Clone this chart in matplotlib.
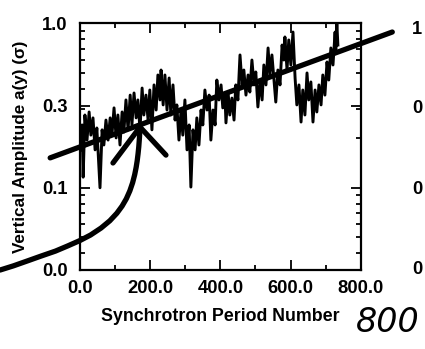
import numpy as np
import matplotlib
matplotlib.use("Agg")
import matplotlib.pyplot as plt
from matplotlib.font_manager import FontProperties
from matplotlib.ticker import FixedLocator, LogLocator, FixedFormatter, NullFormatter

# ---- data ----
noisy_x = [0, 6, 9, 14, 20, 26, 31, 37, 43, 48,
           57, 63, 68, 74, 80, 86, 91, 97, 103, 108,
           114, 120, 125, 131, 137, 143, 148, 154, 160, 165,
           171, 177, 182, 188, 194, 199, 205, 211, 217, 222,
           228, 231, 237, 242, 248, 254, 259, 265, 271, 276,
           282, 288, 293, 299, 305, 311, 316, 322, 328, 333,
           339, 345, 350, 356, 362, 368, 373, 379, 385, 390,
           396, 402, 407, 413, 416, 422, 427, 433, 439, 444,
           450, 456, 462, 467, 473, 479, 484, 490, 496, 501,
           507, 513, 519, 524, 530, 536, 541, 547, 553, 558,
           564, 570, 576, 581, 584, 590, 595, 601, 607, 613,
           618, 624, 630, 635, 641, 647, 652, 658, 664, 670,
           675, 681, 687, 692, 698, 704, 709, 715, 721, 727,
           729, 732, 735]
noisy_y = [0.170, 0.241, 0.116, 0.277, 0.195, 0.289, 0.209, 0.266, 0.170, 0.231,
           0.100, 0.225, 0.182, 0.258, 0.195, 0.266, 0.209, 0.306, 0.201, 0.277,
           0.182, 0.289, 0.218, 0.342, 0.225, 0.366, 0.241, 0.377, 0.266, 0.342,
           0.225, 0.404, 0.277, 0.366, 0.258, 0.393, 0.225, 0.422, 0.297, 0.485,
           0.342, 0.520, 0.319, 0.485, 0.297, 0.465, 0.277, 0.422, 0.258, 0.319,
           0.195, 0.297, 0.209, 0.342, 0.170, 0.241, 0.101, 0.225, 0.170, 0.266,
           0.182, 0.297, 0.241, 0.393, 0.297, 0.366, 0.195, 0.297, 0.241, 0.452,
           0.342, 0.422, 0.306, 0.366, 0.248, 0.382, 0.277, 0.351, 0.258, 0.422,
           0.342, 0.642, 0.422, 0.520, 0.366, 0.485, 0.382, 0.598, 0.422, 0.506,
           0.310, 0.452, 0.342, 0.558, 0.422, 0.708, 0.485, 0.642, 0.452, 0.332,
           0.520, 0.422, 0.738, 0.598, 0.826, 0.520, 0.792, 0.558, 0.885, 0.465,
           0.319, 0.422, 0.251, 0.393, 0.277, 0.499, 0.342, 0.440, 0.251, 0.393,
           0.289, 0.422, 0.319, 0.485, 0.366, 0.582, 0.452, 0.708, 0.558, 0.885,
           0.688, 1.0, 0.738]

fit_x = [-85, 890]
fit_y = [0.152, 0.885]

curve_x = [-228, -190, -150, -110, -70, -35, 0, 30, 60, 85, 105, 120,
           132, 142, 150, 156, 160, 163, 165.5, 167.5, 169.5, 171]
curve_y = [0.0316, 0.0335, 0.0359, 0.0385, 0.0412, 0.0443, 0.0478, 0.0516,
           0.0569, 0.0630, 0.0700, 0.0774, 0.0857, 0.0957, 0.1074, 0.1205,
           0.1330, 0.1459, 0.1611, 0.1774, 0.2023, 0.2312]

peak_x = [94, 171, 245]
peak_y = [0.1415, 0.234, 0.158]

xticks = [0, 200, 400, 600, 800]
xtick_labels = ["0.0", "200.0", "400.0", "600.0", "800.0"]
yticks = [10 ** -1.5, 0.1, 10 ** -0.5, 1.0]
ytick_labels = ["0.0", "0.1", "0.3", "1.0"]

# ---- figure ----
W, H = 425, 349
fig = plt.figure(figsize=(W / 100, H / 100), dpi=100)
ax = fig.add_axes([80 / W, 1 - 270 / H, 280.7 / W, 246.7 / H])

tick_font = {"family": "Liberation Sans", "weight": "bold", "size": 13.2}

ax.plot(noisy_x, noisy_y, color="black", lw=2.1, zorder=3)
ax.plot(fit_x, fit_y, color="black", lw=3.8, solid_capstyle="round",
        clip_on=False, zorder=4)
ax.plot(curve_x, curve_y, color="black", lw=3.8, solid_capstyle="round",
        solid_joinstyle="round", clip_on=False, zorder=4)
ax.plot(peak_x, peak_y, color="black", lw=3.8, solid_capstyle="round",
        clip_on=False, zorder=4)

ax.set_yscale("log")
ax.set_xlim(0, 800)
ax.set_ylim(10 ** -1.5, 1.0)

ax.xaxis.set_major_locator(FixedLocator(xticks))
ax.xaxis.set_major_formatter(FixedFormatter(xtick_labels))
ax.xaxis.set_minor_locator(FixedLocator([100, 300, 500, 700]))
ax.yaxis.set_major_locator(FixedLocator(yticks))
ax.yaxis.set_major_formatter(FixedFormatter(ytick_labels))
ax.yaxis.set_minor_locator(LogLocator(base=10, subs=np.arange(2, 10)))
ax.yaxis.set_minor_formatter(NullFormatter())

ax.tick_params(which="both", direction="in", top=True, right=True, width=1.3)
ax.tick_params(which="major", length=7)
ax.tick_params(axis="x", which="major", pad=7)
ax.tick_params(axis="y", which="major", pad=9)
ax.tick_params(which="minor", length=3.5)
for lab in ax.get_xticklabels() + ax.get_yticklabels():
    lab.set_fontproperties(FontProperties(**tick_font))
for sp in ax.spines.values():
    sp.set_linewidth(1.6)

ax.set_xlabel("Synchrotron Period Number", family="Liberation Sans",
              weight="bold", size=12.8, labelpad=8)
ax.set_ylabel("Vertical Amplitude a(y) (σ)", family="Liberation Sans",
              weight="bold", size=12.3, labelpad=10)

# neighbouring panel's cut-off labels
for ty, tt in [(30, "1"), (108, "0"), (190, "0"), (270, "0")]:
    fig.text(417 / W, 1 - ty / H, tt, ha="center", va="center", **tick_font)

# handwritten note
fig.text(388 / W, 1 - 323 / H, "800", ha="center", va="center",
         family="DejaVu Sans", style="italic", size=24, weight="normal")

fig.savefig("out.png", dpi=100)
